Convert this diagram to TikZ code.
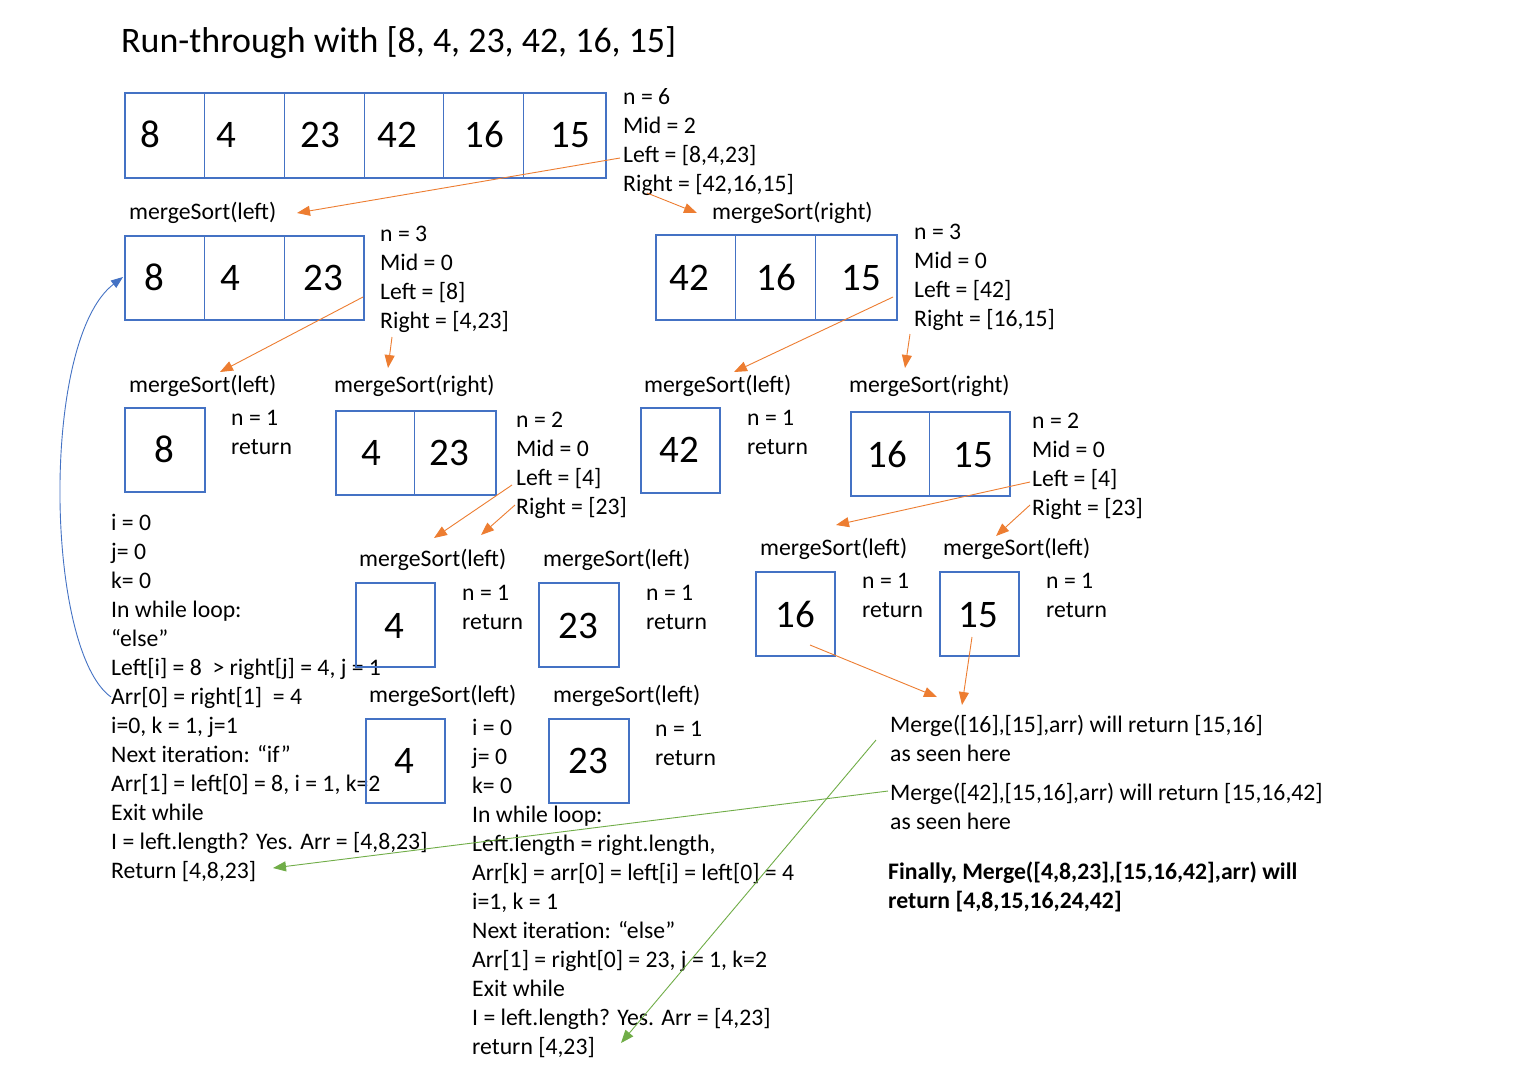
\documentclass[tikz,border=0pt]{standalone}
\usepackage{fontspec}
\setmainfont{Carlito}
\usetikzlibrary{arrows.meta}
\definecolor{obl}{HTML}{4472C4}
\definecolor{oor}{HTML}{ED7D31}
\definecolor{ogr}{HTML}{70AD47}
\tikzset{
  txt/.style={anchor=base west, inner sep=0pt, font=\fontsize{23.7}{28}\selectfont},
  btxt/.style={txt, font=\fontsize{23.7}{28}\selectfont\bfseries},
  ttl/.style={anchor=base west, inner sep=0pt, font=\fontsize{35.9}{40}\selectfont},
  num/.style={anchor=base, inner sep=0pt, font=\fontsize{39}{44}\selectfont},
  arrbox/.style={draw=obl, line width=1.8pt, inner sep=0pt, anchor=north west},
  divline/.style={draw=obl, line width=0.9pt},
  oarrow/.style={draw=oor, line width=0.9pt, -{Triangle[length=13pt,width=10pt]}},
  garrow/.style={draw=ogr, line width=0.9pt, -{Triangle[length=13pt,width=10pt]}},
  barrow/.style={draw=obl, line width=0.9pt, -{Triangle[length=12pt,width=9pt]}},
}
\newcommand\mylines[4]{\foreach \t [count=\k] in {#4}{\node[txt] (#1-\k) at (#2,{#3+29*(\k-1)}) {\t};}}
\begin{document}
\begin{tikzpicture}[x=1pt,y=-1pt]
\fill[white] (0,0) rectangle (1528,1080);
\useasboundingbox (0,0) rectangle (1528,1080);

% title
\node[ttl] (title) at (121,52) {Run-through with [8, 4, 23, 42, 16, 15]};

% ---------- top array
\node[arrbox, minimum width=481pt, minimum height=85pt] (A0) at (124,92) {};
\foreach \x in {204,284,364,443,523} \draw[divline] (\x,92) -- (\x,177);
\node[num] (a01) at (150,147) {8};
\node[num] (a02) at (226,147) {4};
\node[num] (a03) at (320,147) {23};
\node[num] (a04) at (397,147) {42};
\node[num] (a05) at (484,147) {16};
\node[num] (a06) at (570,147) {15};
\mylines{t0}{623}{104}{{n = 6},{Mid = 2},{Left = [8,4,23]},{Right = [42,16,15]}}

\node[txt] (msL1) at (129,219) {mergeSort(left)};
\node[txt] (msR1) at (712,219) {mergeSort(right)};

% ---------- second row left
\node[arrbox, minimum width=239pt, minimum height=84pt] (B1) at (124,235) {};
\foreach \x in {204,284} \draw[divline] (\x,235) -- (\x,319);
\node[num] (b11) at (154,290) {8};
\node[num] (b12) at (230,290) {4};
\node[num] (b13) at (323,290) {23};
\mylines{t1}{380}{241}{{n = 3},{Mid = 0},{Left = [8]},{Right = [4,23]}}

% ---------- second row right
\node[arrbox, minimum width=241pt, minimum height=85pt] (B2) at (655,234) {};
\foreach \x in {735,815} \draw[divline] (\x,234) -- (\x,319);
\node[num] (b21) at (689,290) {42};
\node[num] (b22) at (776,290) {16};
\node[num] (b23) at (861,290) {15};
\mylines{t2}{914}{239}{{n = 3},{Mid = 0},{Left = [42]},{Right = [16,15]}}

% ---------- third row
\node[txt] (msL2) at (129,392) {mergeSort(left)};
\node[txt] (msR2) at (334,392) {mergeSort(right)};
\node[txt] (msL3) at (644,392) {mergeSort(left)};
\node[txt] (msR3) at (849,392) {mergeSort(right)};

\node[arrbox, minimum width=80pt, minimum height=84pt] (C1) at (124,407) {};
\node[num] (c11) at (164,462) {8};
\mylines{t3}{231}{425}{{n = 1},{return}}

\node[arrbox, minimum width=160pt, minimum height=84pt] (C2) at (335,410) {};
\draw[divline] (414,410) -- (414,494);
\node[num] (c21) at (371,465) {4};
\node[num] (c22) at (449,465) {23};
\mylines{t4}{516}{427}{{n = 2},{Mid = 0},{Left = [4]},{Right = [23]}}

\node[arrbox, minimum width=79pt, minimum height=85pt] (C3) at (640,407) {};
\node[num] (c31) at (679,462) {42};
\mylines{t5}{747}{425}{{n = 1},{return}}

\node[arrbox, minimum width=159pt, minimum height=84pt] (C4) at (850,411) {};
\draw[divline] (929,411) -- (929,495);
\node[num] (c41) at (887,467) {16};
\node[num] (c42) at (973,467) {15};
\mylines{t6}{1032}{428}{{n = 2},{Mid = 0},{Left = [4]},{Right = [23]}}

% ---------- left column notes
\mylines{t7}{111}{530}{{i = 0},{j= 0},{k= 0},{In while loop:},{“else”},{Left[i] = 8 \ > right[j] = 4, j = 1},{Arr[0] = right[1] \ = 4},{i=0, k = 1, j=1},{Next iteration: “if”},{Arr[1] = left[0] = 8, i = 1, k=2},{Exit while},{I = left.length? Yes. Arr = [4,8,23]},{Return [4,8,23]}}

% ---------- fourth row
\node[txt] (msL4) at (359,566) {mergeSort(left)};
\node[txt] (msL5) at (543,566) {mergeSort(left)};
\node[arrbox, minimum width=79pt, minimum height=84pt] (D1) at (355,582) {};
\node[num] (d11) at (394,638) {4};
\mylines{t8}{462}{600}{{n = 1},{return}}
\node[arrbox, minimum width=80pt, minimum height=84pt] (D2) at (538,582) {};
\node[num] (d21) at (578,638) {23};
\mylines{t9}{646}{600}{{n = 1},{return}}

\node[txt] (msL6) at (760,555) {mergeSort(left)};
\node[txt] (msL7) at (943,555) {mergeSort(left)};
\node[arrbox, minimum width=79pt, minimum height=84pt] (D3) at (755,571) {};
\node[num] (d31) at (795,627) {16};
\mylines{t10}{862}{588}{{n = 1},{return}}
\node[arrbox, minimum width=79pt, minimum height=84pt] (D4) at (939,571) {};
\node[num] (d41) at (978,627) {15};
\mylines{t11}{1046}{588}{{n = 1},{return}}

% ---------- fifth row
\node[txt] (msL8) at (369,702) {mergeSort(left)};
\node[txt] (msL9) at (553,702) {mergeSort(left)};
\node[arrbox, minimum width=79pt, minimum height=84pt] (E1) at (365,718) {};
\node[num] (e11) at (404,773) {4};
\node[arrbox, minimum width=80pt, minimum height=84pt] (E2) at (548,718) {};
\node[num] (e21) at (588,773) {23};
\mylines{t12}{655}{736}{{n = 1},{return}}
\mylines{t13}{472}{735}{{i = 0},{j= 0},{k= 0},{In while loop:},{Left.length = right.length,},{Arr[k] = arr[0] = left[i] = left[0] = 4},{i=1, k = 1},{Next iteration: “else”},{Arr[1] = right[0] = 23, j = 1, k=2},{Exit while},{I = left.length? Yes. Arr = [4,23]},{return [4,23]}}

% ---------- right notes
\mylines{t14}{890}{732}{{Merge([16],[15],arr) will return [15,16]},{as seen here}}
\mylines{t15}{890}{800}{{Merge([42],[15,16],arr) will return [15,16,42]},{as seen here}}
\node[btxt] (fin1) at (888,879) {Finally, Merge([4,8,23],[15,16,42],arr) will};
\node[btxt] (fin2) at (888,908) {return [4,8,15,16,24,42]};

% ---------- connector ends
\coordinate (p1s) at (620,158);  \coordinate (p1e) at (297,213);
\coordinate (p2s) at (647,193);  \coordinate (p2e) at (697,213);
\coordinate (p3s) at (363,297);  \coordinate (p3e) at (220,372);
\coordinate (p4s) at (392,337);  \coordinate (p4e) at (388,368);
\coordinate (p5s) at (893,297);  \coordinate (p5e) at (734,372);
\coordinate (p6s) at (910,334);  \coordinate (p6e) at (905,368);
\coordinate (p7s) at (512,485);  \coordinate (p7e) at (434,538);
\coordinate (p8s) at (515,505);  \coordinate (p8e) at (481,535);
\coordinate (p9s) at (1030,482); \coordinate (p9e) at (836,525);
\coordinate (p10s) at (1030,505); \coordinate (p10e) at (996,536);
\coordinate (p11s) at (810,645); \coordinate (p11e) at (937,697);
\coordinate (p12s) at (972,637); \coordinate (p12e) at (962,705);
\coordinate (g1s) at (876,740);  \coordinate (g1e) at (621,1043);
\coordinate (g2s) at (888,791);  \coordinate (g2e) at (273,868);
\coordinate (bs) at (111,697);   \coordinate (be) at (123,277);

\foreach \i in {1,...,12} \draw[oarrow] (p\i s) -- (p\i e);
\draw[garrow] (g1s) -- (g1e);
\draw[garrow] (g2s) -- (g2e);
\draw[barrow] (bs) .. controls (45,650) and (40,340) .. (be);
\end{tikzpicture}
\end{document}
